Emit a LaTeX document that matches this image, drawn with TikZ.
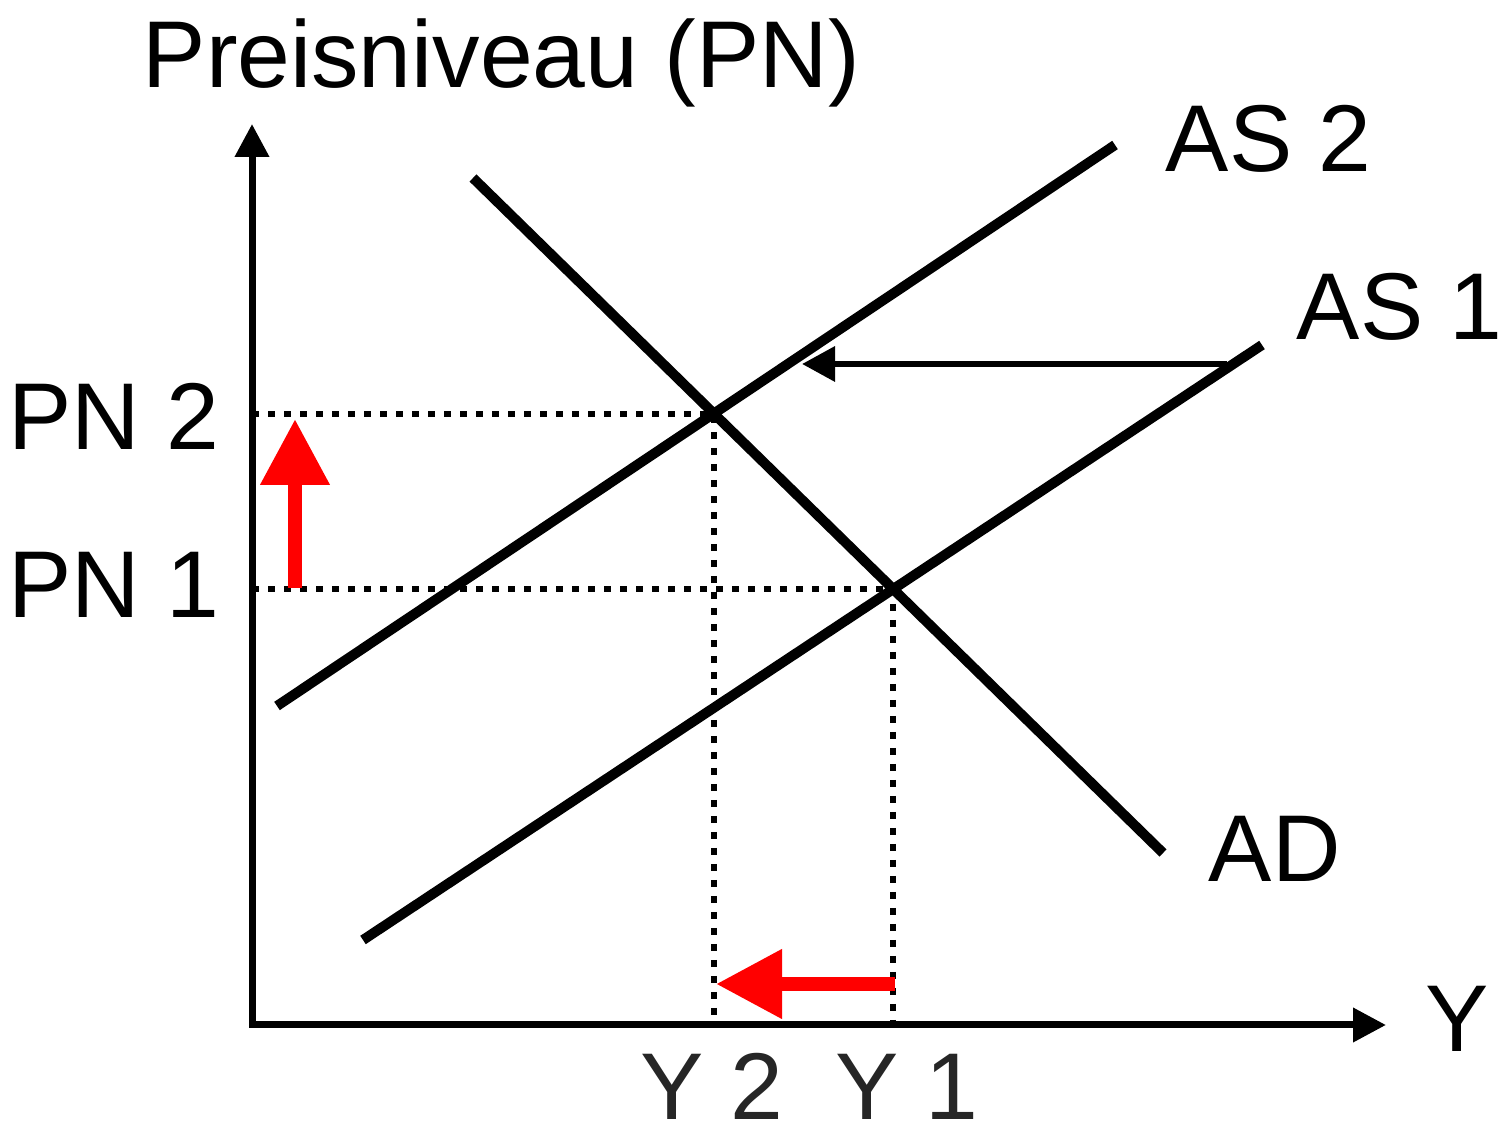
\documentclass[tikz,border=0pt]{standalone}
\usepackage{fontspec}
\setmainfont{Liberation Sans}
\usetikzlibrary{positioning, arrows.meta}
\definecolor{ylabel}{HTML}{262626}

\begin{document}
\begin{tikzpicture}[
  axis/.style={line width=0.07cm, {Triangle[length=0.33cm, width=0.33cm]}-{Triangle[length=0.33cm, width=0.33cm]}},
  curve/.style={line width=0.1cm},
  guide/.style={line width=0.06cm, dash pattern=on 0.07cm off 0.09cm},
  moveblack/.style={line width=0.065cm, -{Triangle[length=0.33cm, width=0.34cm]}},
  movered/.style={line width=0.14cm, red, -{Triangle[length=0.66cm, width=0.66cm]}},
  lbl/.style={anchor=base west, inner sep=0pt, font=\fontsize{27}{32}\selectfont}
]
\useasboundingbox (0,0) rectangle (15.04,11.26);

% Axes
\coordinate (origin) at (2.52,1.01);
\coordinate (ytop) at (2.52,10.02);
\coordinate (xend) at (13.86,1.01);
\draw[axis] (ytop) -- (origin) -- (xend);

% Curves
\coordinate (as2a) at (2.77,4.20);
\coordinate (as2b) at (11.15,9.81);
\coordinate (as1a) at (3.63,1.86);
\coordinate (as1b) at (12.62,7.81);
\coordinate (ada) at (4.73,9.48);
\coordinate (adb) at (11.63,2.73);
\draw[curve] (as2a) -- (as2b);
\draw[curve] (as1a) -- (as1b);
\draw[curve] (ada) -- (adb);

% Equilibria
\coordinate (eq2) at (intersection of as2a--as2b and ada--adb);
\coordinate (eq1) at (intersection of as1a--as1b and ada--adb);
\draw[guide] (eq2 -| origin) -- (eq2) -- (eq2 |- origin);
\draw[guide] (eq1 -| origin) -- (eq1) -- (eq1 |- origin);

% Shift of AS
\coordinate (shiftfrom) at (12.27,7.62);
\coordinate (shiftto) at (8.02,7.62);
\draw[moveblack] (shiftfrom) -- (shiftto);

% Red arrows
\coordinate (pnfrom) at (2.95,5.38);
\coordinate (pnto) at (2.95,7.07);
\draw[movered] (pnfrom) -- (pnto);
\coordinate (yfrom) at (8.95,1.42);
\coordinate (yto) at (7.16,1.42);
\draw[movered] (yfrom) -- (yto);

% Labels
\node[lbl] (title) at (1.42,10.38) {Preisniveau (PN)};
\node[lbl] (as2lbl) at (11.65,9.54) {AS 2};
\node[lbl] (as1lbl) at (12.96,7.86) {AS 1};
\node[lbl] (adlbl) at (12.08,2.44) {AD};
\node[lbl] (ylbl) at (14.25,0.74) {Y};
\node[lbl] (pn2lbl) at (0.08,6.76) {PN 2};
\node[lbl] (pn1lbl) at (0.08,5.08) {PN 1};
\node[lbl, ylabel] (y2lbl) at (6.40,0.06) {Y 2};
\node[lbl, ylabel] (y1lbl) at (8.35,0.06) {Y 1};

\end{tikzpicture}
\end{document}
